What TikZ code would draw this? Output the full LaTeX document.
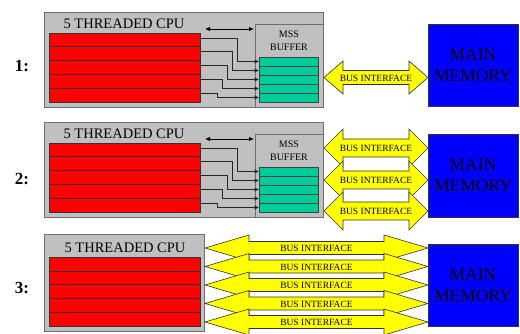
\documentclass[tikz,border=0pt]{standalone}
\usepackage{fontspec}
\setmainfont{Liberation Serif}
\usetikzlibrary{arrows.meta}
\definecolor{cpugray}{HTML}{C0C0C0}
\definecolor{edgegray}{HTML}{6E6E6E}
\definecolor{thrred}{HTML}{FF0000}
\definecolor{bufgreen}{HTML}{00CC99}
\definecolor{memblue}{HTML}{0000FF}
\definecolor{busyellow}{HTML}{FFFF00}
\tikzset{
  cpubox/.style={draw=edgegray, fill=cpugray, line width=0.8pt, anchor=north west, inner sep=0, outer sep=0},
  mssbox/.style={draw=edgegray, fill=cpugray, line width=0.8pt, anchor=north west, inner sep=0, outer sep=0, minimum width=68pt, minimum height=83pt},
  redstripe/.style={draw=black!80, fill=thrred, line width=0.6pt, minimum width=151pt, minimum height=13.8pt, inner sep=0, outer sep=0, anchor=north west},
  greenstripe/.style={draw=black!75, fill=bufgreen, line width=0.6pt, minimum width=59pt, minimum height=9pt, inner sep=0, outer sep=0, anchor=north west},
  membox/.style={draw=black!80, fill=memblue, line width=0.6pt, minimum width=90pt, inner sep=0, align=center, font=\fontsize{17.5}{21}\selectfont},
  cputext/.style={font=\fontsize{14.5}{15}\selectfont, inner sep=0},
  msstext/.style={font=\fontsize{10}{13}\selectfont, align=center, inner sep=0},
  bustext/.style={font=\fontsize{9.5}{10}\selectfont, inner sep=0},
  rowlabel/.style={font=\fontsize{17}{17}\selectfont\bfseries, inner sep=0},
  feed/.style={draw=black!85, line width=0.7pt, -{Latex[length=4.5pt,width=4.5pt]}},
  topflow/.style={draw=black, line width=0.8pt, {Latex[length=5pt,width=4.5pt]}-{Latex[length=5pt,width=4.5pt]}},
  busline/.style={draw=black!80, line width=0.6pt, fill=busyellow},
}
% #1 left tip x, #2 right tip x, #3 centre y, #4 shaft half height, #5 head half height, #6 head length, #7 name
\newcommand\busarrow[7]{%
  \path[busline] (#1,#3) -- (#1+#6,#3-#5) -- (#1+#6,#3-#4) -- (#2-#6,#3-#4) -- (#2-#6,#3-#5)
    -- (#2,#3) -- (#2-#6,#3+#5) -- (#2-#6,#3+#4) -- (#1+#6,#3+#4) -- (#1+#6,#3+#5) -- cycle;
  \node[bustext] (#7) at ({(#1+#2)/2},#3+0.5) {BUS INTERFACE};}
\begin{document}
\begin{tikzpicture}[x=1pt,y=-1pt]
\useasboundingbox (0,0) rectangle (520,334);

% ---------- rows 1 and 2 ----------
\foreach \row/\dy in {1/0,2/110}{
  \node[cpubox, minimum width=279pt, minimum height=95pt] (c\row) at (44,12+\dy) {};
  \node[cputext] (c\row t) at (124,24+\dy) {5 THREADED CPU};
  \node[mssbox] (m\row) at (255,24+\dy) {};
  \node[msstext] (m\row t) at (289,40.5+\dy) {MSS\\BUFFER};
  \foreach \i/\n in {0/a,1/b,2/c,3/d,4/e}{
    \node[redstripe] (r\row\n) at (49,33+\dy+13.8*\i) {};
    \node[greenstripe] (g\row\n) at (259,57+\dy+9*\i) {};
  }
  \foreach \i/\n in {0/a,1/b,2/c,3/d,4/e}{
    \draw[feed] ([yshift=2pt]r\row\n.east) -- ++({37-5*\i},0) |- (g\row\n.west);
  }
  \coordinate (t\row a) at (205,29+\dy);
  \coordinate (t\row b) at (254,29+\dy);
  \draw[topflow] (t\row a) -- (t\row b);
}

% ---------- row 3 ----------
\node[cpubox, minimum width=160pt, minimum height=97pt] (c3) at (44,234) {};
\node[cputext] (c3t) at (125,248) {5 THREADED CPU};
\foreach \i/\n in {0/a,1/b,2/c,3/d,4/e}{
  \node[redstripe] (r3\n) at (49,257+13.8*\i) {};
}

% ---------- row labels ----------
\node[rowlabel] (l1) at (22,66) {1:};
\node[rowlabel] (l2) at (22,179) {2:};
\node[rowlabel] (l3) at (22,288) {3:};

% ---------- main memories ----------
\node[membox, minimum height=82pt] (mem1) at (473,65) {MAIN\\MEMORY};
\node[membox, minimum height=83pt] (mem2) at (473,175.5) {MAIN\\MEMORY};
\node[membox, minimum height=82pt] (mem3) at (473,285) {MAIN\\MEMORY};

% ---------- bus interfaces ----------
\busarrow{324}{428}{77.5}{7}{16.5}{19}{b1}
\busarrow{324}{428}{148}{9}{19}{19}{b2a}
\busarrow{324}{428}{180}{9}{19}{19}{b2b}
\busarrow{324}{428}{211}{9}{19}{19}{b2c}
\busarrow{205}{428}{248}{6.5}{13}{44}{b3a}
\busarrow{205}{428}{266.5}{6.5}{13}{44}{b3b}
\busarrow{205}{428}{285}{6.5}{13}{44}{b3c}
\busarrow{205}{428}{303.5}{6.5}{13}{44}{b3d}
\busarrow{205}{428}{322}{6.5}{13}{44}{b3e}
\end{tikzpicture}
\end{document}
